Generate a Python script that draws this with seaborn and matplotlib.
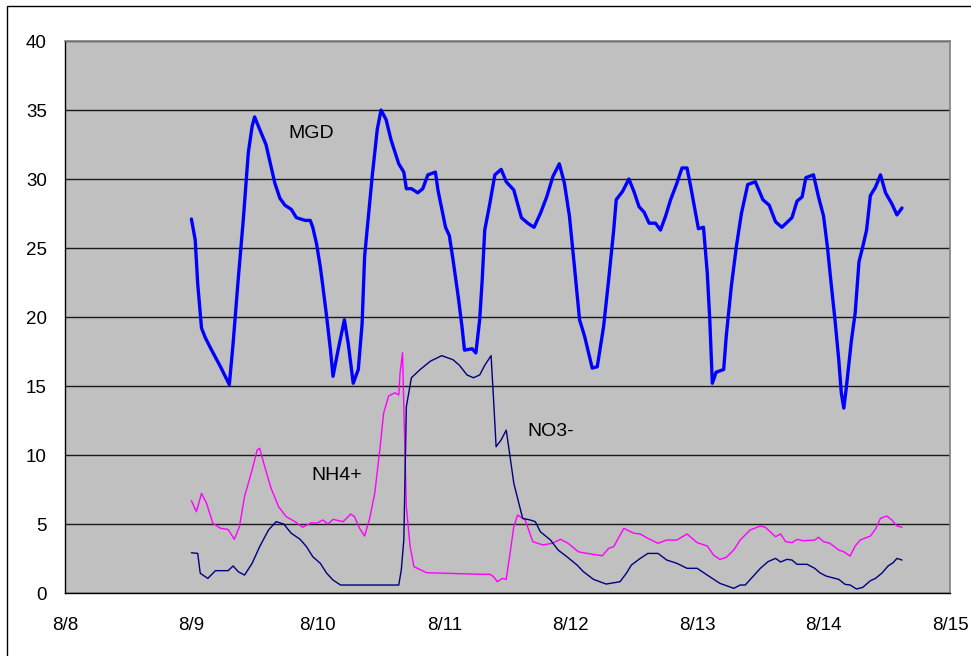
import matplotlib
matplotlib.use("Agg")
import matplotlib.pyplot as plt
from matplotlib.patches import Rectangle
import seaborn as sns
import pandas as pd

# Time in decimal days of August (9.5 = 8/9 noon)
mgd_day = [9.00, 9.03, 9.05, 9.08, 9.11, 9.16, 9.23, 9.30, 9.33, 9.37, 9.41, 9.45,
           9.48, 9.50, 9.54, 9.59, 9.62, 9.66, 9.70, 9.74, 9.79, 9.83, 9.90, 9.94,
           9.96, 9.99, 10.02, 10.04, 10.07, 10.10, 10.12, 10.16, 10.21, 10.24, 10.28,
           10.32, 10.35, 10.37, 10.40, 10.43, 10.47, 10.50, 10.54, 10.58, 10.64, 10.68,
           10.70, 10.74, 10.79, 10.83, 10.87, 10.93, 10.95, 11.01, 11.04, 11.07, 11.11,
           11.14, 11.16, 11.22, 11.25, 11.28, 11.30, 11.32, 11.36, 11.40, 11.45, 11.49,
           11.55, 11.61, 11.66, 11.71, 11.76, 11.81, 11.86, 11.91, 11.95, 11.99, 12.03,
           12.07, 12.11, 12.17, 12.21, 12.26, 12.30, 12.34, 12.36, 12.41, 12.46, 12.50,
           12.54, 12.58, 12.62, 12.67, 12.71, 12.75, 12.79, 12.84, 12.88, 12.92, 12.95,
           12.98, 13.01, 13.05, 13.08, 13.10, 13.12, 13.15, 13.21, 13.23, 13.27, 13.31,
           13.35, 13.40, 13.46, 13.52, 13.57, 13.62, 13.67, 13.75, 13.79, 13.83, 13.86,
           13.92, 13.96, 14.00, 14.03, 14.06, 14.09, 14.12, 14.14, 14.16, 14.18, 14.22,
           14.25, 14.28, 14.31, 14.34, 14.37, 14.41, 14.45, 14.49, 14.54, 14.58, 14.62]
mgd = [27.1, 25.6, 22.4, 19.2, 18.5, 17.6, 16.4, 15.1, 18.1, 22.7, 27.0, 31.9,
       33.8, 34.5, 33.6, 32.5, 31.3, 29.7, 28.6, 28.1, 27.8, 27.2, 27.0, 27.0,
       26.5, 25.3, 23.6, 22.2, 20.0, 17.6, 15.7, 17.6, 19.8, 18.1, 15.2,
       16.2, 19.5, 24.4, 27.3, 30.2, 33.6, 35.0, 34.3, 32.8, 31.1, 30.5,
       29.3, 29.3, 29.0, 29.3, 30.3, 30.5, 29.2, 26.5, 25.9, 24.1, 21.5,
       19.3, 17.6, 17.7, 17.4, 19.8, 22.7, 26.3, 28.2, 30.3, 30.7, 29.8,
       29.2, 27.2, 26.8, 26.5, 27.5, 28.7, 30.2, 31.1, 29.7, 27.3, 23.6,
       19.8, 18.6, 16.3, 16.4, 19.3, 22.7, 26.3, 28.5, 29.1, 30.0, 29.1,
       28.0, 27.6, 26.8, 26.8, 26.3, 27.3, 28.5, 29.7, 30.8, 30.8, 29.4,
       27.9, 26.4, 26.5, 23.2, 19.8, 15.2, 16.0, 16.2, 18.6, 22.2, 25.1,
       27.5, 29.6, 29.8, 28.5, 28.1, 26.9, 26.5, 27.2, 28.4, 28.7, 30.1,
       30.3, 28.7, 27.3, 25.1, 22.4, 19.8, 16.9, 14.5, 13.4, 14.9, 18.3,
       20.3, 24.0, 25.1, 26.3, 28.8, 29.4, 30.3, 29.0, 28.2, 27.4, 27.9]

no3_day = [9.00, 9.05, 9.07, 9.13, 9.19, 9.29, 9.33, 9.37, 9.42, 9.48, 9.54, 9.61,
           9.67, 9.73, 9.79, 9.86, 9.91, 9.96, 10.02, 10.07, 10.12, 10.18, 10.39,
           10.64, 10.66, 10.68, 10.69, 10.70, 10.74, 10.81, 10.89, 10.98, 11.07,
           11.12, 11.18, 11.23, 11.28, 11.32, 11.37, 11.39, 11.41, 11.45, 11.49,
           11.52, 11.55, 11.59, 11.62, 11.68, 11.72, 11.76, 11.84, 11.90, 11.97,
           12.05, 12.10, 12.18, 12.28, 12.39, 12.44, 12.48, 12.55, 12.61, 12.69,
           12.76, 12.84, 12.92, 13.00, 13.08, 13.18, 13.29, 13.34, 13.38, 13.44,
           13.50, 13.56, 13.62, 13.66, 13.71, 13.75, 13.79, 13.87, 13.93, 13.97,
           14.02, 14.12, 14.17, 14.21, 14.26, 14.31, 14.37, 14.41, 14.46, 14.51,
           14.55, 14.58, 14.62]
no3 = [2.92, 2.87, 1.43, 1.06, 1.62, 1.62, 1.96, 1.55, 1.30, 2.15, 3.36, 4.57,
       5.17, 5.00, 4.33, 3.89, 3.36, 2.63, 2.15, 1.43, 0.94, 0.58, 0.58,
       0.58, 1.67, 3.84, 8.67, 13.5, 15.6, 16.2, 16.8, 17.2, 16.9,
       16.5, 15.8, 15.6, 15.8, 16.5, 17.2, 14.0, 10.6, 11.1, 11.8,
       9.9, 7.95, 6.5, 5.41, 5.29, 5.17, 4.44, 3.84, 3.12, 2.63,
       2.03, 1.55, 0.99, 0.65, 0.82, 1.43, 2.03, 2.51, 2.87, 2.87,
       2.39, 2.15, 1.79, 1.79, 1.30, 0.70, 0.34, 0.58, 0.58, 1.18,
       1.79, 2.27, 2.51, 2.25, 2.44, 2.39, 2.08, 2.08, 1.79, 1.47,
       1.23, 0.99, 0.63, 0.58, 0.29, 0.41, 0.89, 1.06, 1.43, 1.96,
       2.20, 2.51, 2.39]

nh4_day = [9.00, 9.04, 9.08, 9.12, 9.17, 9.23, 9.29, 9.34, 9.38, 9.42, 9.48, 9.52,
           9.54, 9.58, 9.63, 9.69, 9.75, 9.82, 9.88, 9.95, 9.99, 10.04, 10.08,
           10.12, 10.20, 10.26, 10.29, 10.33, 10.37, 10.41, 10.45, 10.49, 10.52,
           10.56, 10.61, 10.64, 10.65, 10.67, 10.68, 10.70, 10.73, 10.76, 10.86,
           11.02, 11.28, 11.36, 11.39, 11.42, 11.46, 11.49, 11.52, 11.55, 11.58,
           11.64, 11.70, 11.78, 11.85, 11.92, 11.98, 12.06, 12.13, 12.25, 12.30,
           12.34, 12.42, 12.50, 12.55, 12.61, 12.69, 12.76, 12.84, 12.92, 13.00,
           13.08, 13.13, 13.18, 13.23, 13.29, 13.34, 13.42, 13.50, 13.54, 13.59,
           13.62, 13.66, 13.70, 13.75, 13.79, 13.84, 13.93, 13.96, 14.00, 14.05,
           14.12, 14.16, 14.21, 14.25, 14.29, 14.37, 14.41, 14.45, 14.50, 14.54,
           14.58, 14.62]
nh4 = [6.69, 5.89, 7.22, 6.50, 5.05, 4.69, 4.61, 3.89, 4.81, 6.98, 8.91, 10.36,
       10.49, 9.15, 7.59, 6.25, 5.53, 5.17, 4.76, 5.10, 5.05, 5.29, 5.00,
       5.34, 5.17, 5.72, 5.53, 4.69, 4.13, 5.41, 7.22, 10.36, 13.02,
       14.28, 14.51, 14.35, 15.92, 17.41, 13.5, 6.25, 3.36, 1.91, 1.47,
       1.43, 1.36, 1.36, 1.18, 0.82, 1.06, 0.99, 2.87, 4.81, 5.65,
       5.29, 3.72, 3.48, 3.60, 3.89, 3.60, 2.99, 2.87, 2.70, 3.24,
       3.36, 4.69, 4.33, 4.28, 3.96, 3.60, 3.84, 3.84, 4.28, 3.65,
       3.41, 2.75, 2.44, 2.58, 3.12, 3.84, 4.57, 4.86, 4.76, 4.33,
       4.08, 4.28, 3.72, 3.65, 3.89, 3.79, 3.84, 4.04, 3.72, 3.60,
       3.12, 2.99, 2.68, 3.41, 3.84, 4.13, 4.62, 5.41, 5.58, 5.29,
       4.86, 4.76]

tick_days = [8, 9, 10, 11, 12, 13, 14, 15]
tick_labels = ["8/8", "8/9", "8/10", "8/11", "8/12", "8/13", "8/14", "8/15"]
y_ticks = [0, 5, 10, 15, 20, 25, 30, 35, 40]

sns.set_style("white")
plt.rcParams["font.family"] = ["Liberation Sans", "DejaVu Sans"]

fig = plt.figure(figsize=(9.71, 6.56), dpi=100)
ax = fig.add_axes([0.0669, 0.0960, 0.9115, 0.8415])
ax.set_facecolor("#C0C0C0")

df_mgd = pd.DataFrame({"day": mgd_day, "value": mgd})
df_no3 = pd.DataFrame({"day": no3_day, "value": no3})
df_nh4 = pd.DataFrame({"day": nh4_day, "value": nh4})

sns.lineplot(data=df_nh4, x="day", y="value", sort=False, color="#FF00FF",
             linewidth=1.0, ax=ax, zorder=3)
sns.lineplot(data=df_no3, x="day", y="value", sort=False, color="#000080",
             linewidth=1.0, ax=ax, zorder=4)
sns.lineplot(data=df_mgd, x="day", y="value", sort=False, color="#0000FF",
             linewidth=2.4, ax=ax, zorder=5)

ax.set_xlim(8, 15)
ax.set_ylim(0, 40)
ax.set_xticks(tick_days)
ax.set_xticklabels(tick_labels)
ax.set_yticks(y_ticks)
ax.set_xlabel("")
ax.set_ylabel("")

ax.yaxis.grid(True, color="#1a1a1a", linewidth=1.0)
ax.xaxis.grid(False)
ax.set_axisbelow(True)

for side in ("left", "bottom"):
    ax.spines[side].set_color("#000000")
    ax.spines[side].set_linewidth(1.0)
for side in ("top", "right"):
    ax.spines[side].set_color("#808080")
    ax.spines[side].set_linewidth(1.2)

ax.tick_params(axis="both", direction="out", length=5, width=1.0, color="#000000",
               labelsize=13.5, labelcolor="#000000")
ax.tick_params(axis="y", pad=8)
ax.tick_params(axis="x", pad=12)

ax.text(9.946, 33.3, "MGD", fontsize=14, ha="center", va="center", color="#000000")
ax.text(10.15, 8.5, "NH4+", fontsize=14, ha="center", va="center", color="#000000")
ax.text(11.84, 11.7, "NO3-", fontsize=14, ha="center", va="center", color="#000000")

# Outer chart frame
fig.patches.append(Rectangle((7 / 971, -0.1), 1.2, 0.9909 + 0.1,
                             transform=fig.transFigure, fill=False,
                             edgecolor="#000000", linewidth=1.0, clip_on=False))

fig.savefig("out.png", dpi=100, facecolor="white")
